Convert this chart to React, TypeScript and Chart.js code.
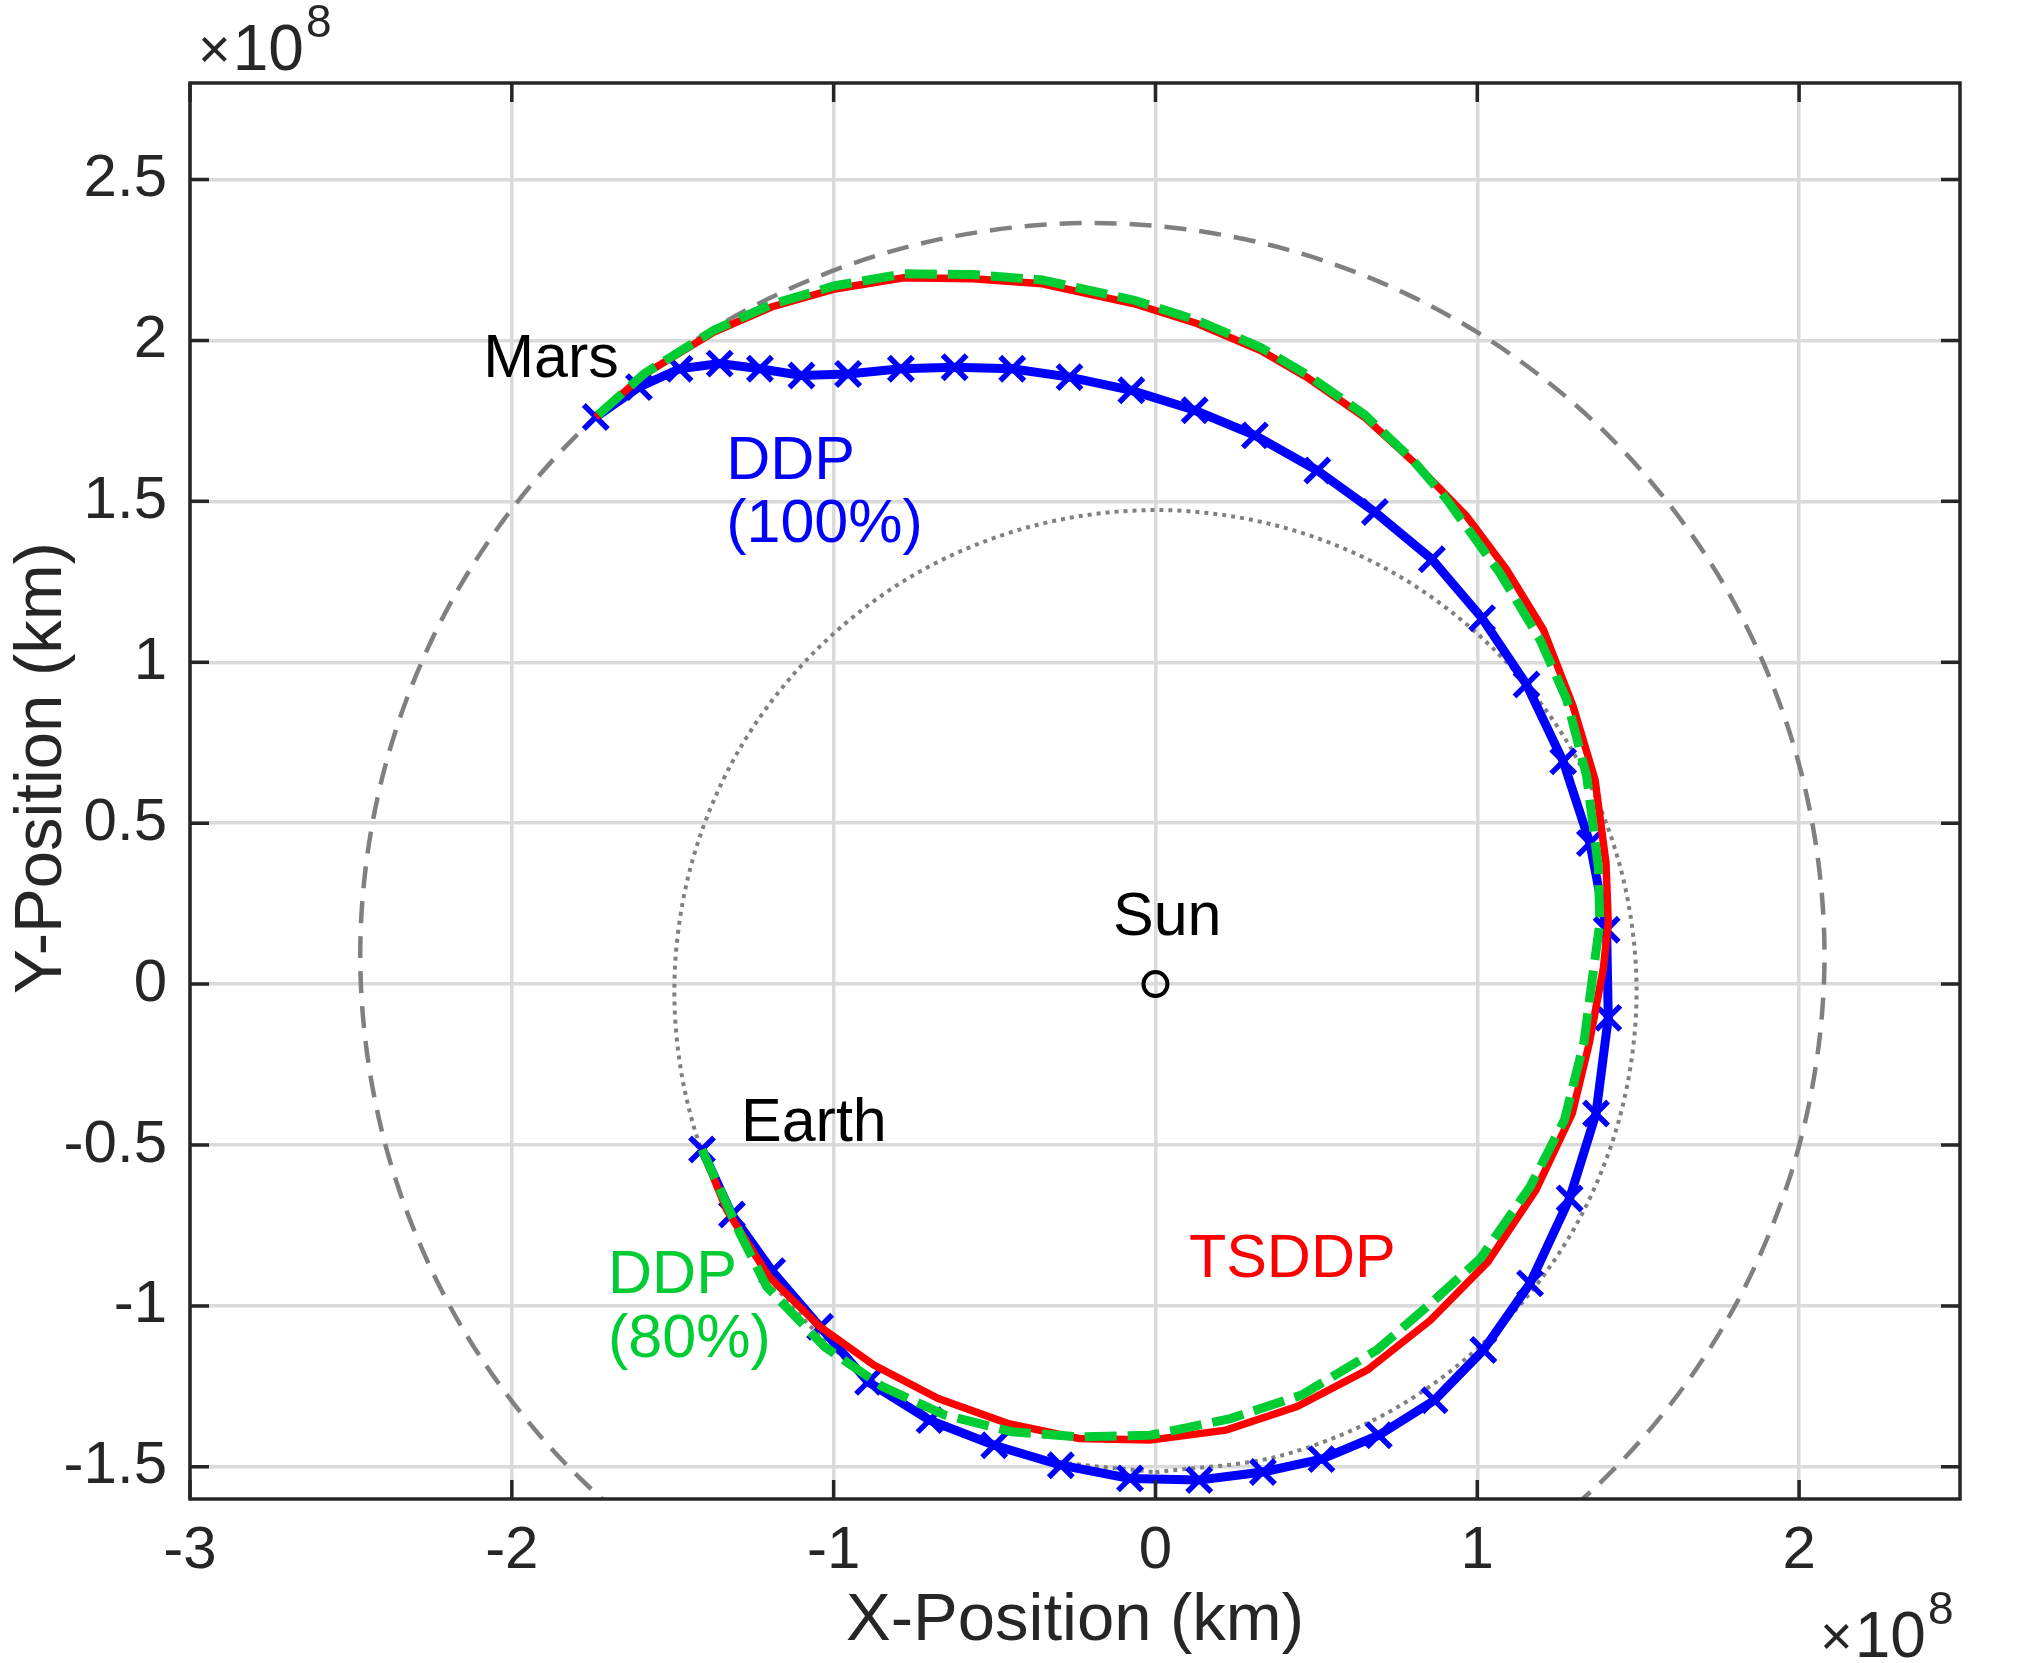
import { useEffect, useRef } from "react";
import { Chart, registerables, type ChartConfiguration, type Plugin } from "chart.js";

Chart.register(...registerables);

// all positions in units of 1e8 km
const xTicks = [-3, -2, -1, 0, 1, 2];
const yTicks = [-1.5, -1, -0.5, 0, 0.5, 1, 1.5, 2, 2.5];

const ddp100X = [
  -1.409, -1.316, -1.191, -1.042, -0.893, -0.702, -0.501, -0.294, -0.079, 0.136, 0.334, 0.516, 0.694, 0.867,
  1.019, 1.164, 1.287, 1.369, 1.407, 1.402, 1.35, 1.267, 1.153, 1.015, 0.859, 0.682, 0.503, 0.309, 0.122,
  -0.075, -0.267, -0.445, -0.624, -0.791, -0.955, -1.1, -1.229, -1.354, -1.479, -1.605, -1.739,
];
const ddp100Y = [
  -0.514, -0.716, -0.892, -1.065, -1.236, -1.355, -1.433, -1.495, -1.536, -1.541, -1.516, -1.476, -1.402, -1.293,
  -1.137, -0.93, -0.666, -0.402, -0.105, 0.169, 0.438, 0.692, 0.931, 1.137, 1.32, 1.467, 1.596, 1.705, 1.783,
  1.845, 1.886, 1.912, 1.917, 1.912, 1.896, 1.891, 1.912, 1.928, 1.912, 1.855, 1.762,
];

const tsddpX = [
  -1.409, -1.332, -1.201, -1.042, -0.875, -0.675, -0.46, -0.238, -0.017, 0.219, 0.44, 0.659, 0.855, 1.033,
  1.182, 1.295, 1.348, 1.392, 1.407, 1.4, 1.366, 1.298, 1.205, 1.091, 0.967, 0.81, 0.649, 0.47, 0.327, 0.131,
  -0.066, -0.352, -0.567, -0.782, -0.996, -1.193, -1.372, -1.587, -1.739,
];
const tsddpY = [
  -0.514, -0.702, -0.909, -1.065, -1.184, -1.288, -1.365, -1.412, -1.417, -1.386, -1.313, -1.199, -1.044, -0.863,
  -0.64, -0.402, -0.184, 0.05, 0.19, 0.376, 0.635, 0.863, 1.102, 1.288, 1.454, 1.615, 1.762, 1.886, 1.969, 2.052,
  2.114, 2.176, 2.192, 2.195, 2.16, 2.104, 2.026, 1.896, 1.762,
];

const ddp80X = [
  -1.409, -1.291, -1.208, -1.028, -0.848, -0.654, -0.446, -0.238, -0.017, 0.233, 0.454, 0.688, 0.843, 1.01,
  1.164, 1.271, 1.331, 1.362, 1.381, 1.376, 1.34, 1.278, 1.195, 1.07, 0.905, 0.8, 0.649, 0.47, 0.327, 0.131,
  -0.066, -0.352, -0.567, -0.782, -0.996, -1.193, -1.372, -1.587, -1.739,
];
const ddp80Y = [
  -0.514, -0.775, -0.94, -1.127, -1.251, -1.339, -1.391, -1.407, -1.402, -1.35, -1.277, -1.137, -1.003, -0.852,
  -0.63, -0.422, -0.184, 0.05, 0.19, 0.366, 0.646, 0.884, 1.07, 1.278, 1.506, 1.628, 1.77, 1.894, 1.978, 2.062,
  2.125, 2.188, 2.205, 2.207, 2.17, 2.112, 2.032, 1.898, 1.762,
];

const earthOrbitX = [
  0, 0.387, 0.748, 1.057, 1.295, 1.444, 1.495, 1.444, 1.295, 1.057, 0.748, 0.387, 0, -0.387, -0.748, -1.057,
  -1.295, -1.444, -1.495, -1.444, -1.295, -1.057, -0.748, -0.387, 0,
];
const earthOrbitY = [
  -1.517, -1.466, -1.317, -1.079, -0.77, -0.409, -0.022, 0.365, 0.726, 1.035, 1.273, 1.422, 1.473, 1.422, 1.273,
  1.035, 0.726, 0.365, -0.022, -0.409, -0.77, -1.079, -1.317, -1.466, -1.517,
];

const marsOrbitX = [
  -0.196, 0.393, 0.942, 1.413, 1.774, 2.001, 2.079, 2.001, 1.774, 1.413, 0.942, 0.393, -0.196, -0.785, -1.334,
  -1.805, -2.166, -2.393, -2.471, -2.393, -2.166, -1.805, -1.334, -0.785, -0.196,
];
const marsOrbitY = [
  -2.185, -2.107, -1.88, -1.519, -1.048, -0.499, 0.09, 0.679, 1.228, 1.699, 2.06, 2.287, 2.365, 2.287, 2.06,
  1.699, 1.228, 0.679, 0.09, -0.499, -1.048, -1.519, -1.88, -2.107, -2.185,
];

const sunX = [0];
const sunY = [0];

const notes = [
  { text: "Mars", x: -2.089, y: 1.885, color: "#000000" },
  { text: "DDP", x: -1.334, y: 1.571, color: "#0000ff" },
  { text: "(100%)", x: -1.334, y: 1.375, color: "#0000ff" },
  { text: "Sun", x: -0.132, y: 0.154, color: "#000000" },
  { text: "Earth", x: -1.288, y: -0.489, color: "#000000" },
  { text: "TSDDP", x: 0.104, y: -0.909, color: "#ff0000" },
  { text: "DDP", x: -1.701, y: -0.959, color: "#00cc33" },
  { text: "(80%)", x: -1.701, y: -1.158, color: "#00cc33" },
];

const FONT = '"Liberation Sans", Arial, Helvetica, sans-serif';
const AXIS = "#262626";
const TICK_LEN = 19;

const pts = (xs: number[], ys: number[]) => xs.map((x, i) => ({ x, y: ys[i] }));

const matlabAxes: Plugin = {
  id: "matlabAxes",
  afterDraw(chart) {
    const { ctx, chartArea: a } = chart;
    const xs = chart.scales.x;
    const ys = chart.scales.y;
    ctx.save();

    // box and inward ticks
    ctx.strokeStyle = AXIS;
    ctx.lineWidth = 3.5;
    ctx.beginPath();
    for (const v of xTicks) {
      const p = xs.getPixelForValue(v);
      ctx.moveTo(p, a.bottom);
      ctx.lineTo(p, a.bottom - TICK_LEN);
      ctx.moveTo(p, a.top);
      ctx.lineTo(p, a.top + TICK_LEN);
    }
    for (const v of yTicks) {
      const p = ys.getPixelForValue(v);
      ctx.moveTo(a.left, p);
      ctx.lineTo(a.left + TICK_LEN, p);
      ctx.moveTo(a.right, p);
      ctx.lineTo(a.right - TICK_LEN, p);
    }
    ctx.stroke();
    ctx.strokeRect(a.left, a.top, a.right - a.left, a.bottom - a.top);

    // text labels on the plot
    ctx.textBaseline = "alphabetic";
    ctx.textAlign = "left";
    ctx.font = `61px ${FONT}`;
    for (const n of notes) {
      ctx.fillStyle = n.color;
      ctx.fillText(n.text, xs.getPixelForValue(n.x), ys.getPixelForValue(n.y));
    }

    // axis titles
    ctx.fillStyle = AXIS;
    ctx.font = `67px ${FONT}`;
    ctx.textAlign = "center";
    ctx.fillText("X-Position (km)", (a.left + a.right) / 2, a.bottom + 141);
    ctx.save();
    ctx.translate(a.left - 129, (a.top + a.bottom) / 2 - 23);
    ctx.rotate(-Math.PI / 2);
    ctx.fillText("Y-Position (km)", 0, 0);
    ctx.restore();

    // exponent labels
    ctx.textAlign = "left";
    const expo = (x: number, y: number) => {
      ctx.font = `56px ${FONT}`;
      ctx.fillText("\u00d7", x, y - 2);
      const wx = ctx.measureText("\u00d7").width;
      ctx.font = `64px ${FONT}`;
      ctx.fillText("10", x + wx + 2, y);
      const w10 = ctx.measureText("10").width;
      ctx.font = `46px ${FONT}`;
      ctx.fillText("8", x + wx + w10 + 4, y - 33);
    };
    expo(a.left + 8, a.top - 13);
    expo(a.right - 140, a.bottom + 158);

    ctx.restore();
  },
};

export default function App() {
  const canvasRef = useRef<HTMLCanvasElement>(null);
  const chartRef = useRef<Chart | null>(null);

  useEffect(() => {
    const canvas = canvasRef.current;
    if (!canvas) return;
    chartRef.current?.destroy();

    const tickFont = { family: FONT, size: 60 };

    const config: ChartConfiguration<"scatter"> = {
      type: "scatter",
      data: {
        datasets: [
          {
            label: "DDP (80%)",
            data: pts(ddp80X, ddp80Y),
            showLine: true,
            borderColor: "#00cc33",
            borderWidth: 9,
            borderDash: [32, 11],
            pointRadius: 0,
            tension: 0,
          },
          {
            label: "TSDDP",
            data: pts(tsddpX, tsddpY),
            showLine: true,
            borderColor: "#ff0000",
            borderWidth: 7.5,
            pointRadius: 0,
            tension: 0,
          },
          {
            label: "DDP (100%)",
            data: pts(ddp100X, ddp100Y),
            showLine: true,
            borderColor: "#0000ff",
            borderWidth: 9,
            pointStyle: "crossRot",
            pointRadius: 17,
            pointBorderWidth: 5.5,
            pointBorderColor: "#0000ff",
            tension: 0,
          },
          {
            label: "Sun",
            data: pts(sunX, sunY),
            showLine: false,
            pointStyle: "circle",
            pointRadius: 12,
            pointBorderWidth: 4,
            pointBorderColor: "#000000",
            pointBackgroundColor: "rgba(0,0,0,0)",
          },
          {
            label: "Earth orbit",
            data: pts(earthOrbitX, earthOrbitY),
            showLine: true,
            borderColor: "#808080",
            borderWidth: 4,
            borderDash: [4, 5],
            pointRadius: 0,
            tension: 0.33,
            capBezierPoints: false,
            clip: 0,
          },
          {
            label: "Mars orbit",
            data: pts(marsOrbitX, marsOrbitY),
            showLine: true,
            borderColor: "#808080",
            borderWidth: 4.5,
            borderDash: [22, 13],
            pointRadius: 0,
            tension: 0.33,
            capBezierPoints: false,
            clip: 0,
          },
        ],
      },
      options: {
        responsive: false,
        animation: false,
        devicePixelRatio: 1,
        events: [],
        layout: { padding: { left: 0, top: 83, right: 60, bottom: 0 } },
        plugins: {
          legend: { display: false },
          tooltip: { enabled: false },
        },
        scales: {
          x: {
            type: "linear",
            min: -3,
            max: 2.5,
            afterBuildTicks: (s) => {
              s.ticks = xTicks.map((value) => ({ value }));
            },
            afterFit: (s) => {
              s.height = 164;
            },
            ticks: {
              color: AXIS,
              font: tickFont,
              padding: 16,
              autoSkip: false,
              maxRotation: 0,
              callback: (v) => String(v),
            },
            grid: { color: "#dadada", lineWidth: 3.5, drawTicks: false },
            border: { display: false },
          },
          y: {
            type: "linear",
            min: -1.6,
            max: 2.8,
            afterBuildTicks: (s) => {
              s.ticks = yTicks.map((value) => ({ value }));
            },
            afterFit: (s) => {
              s.width = 190;
            },
            ticks: {
              color: AXIS,
              font: tickFont,
              padding: 23,
              autoSkip: false,
              callback: (v) => String(v),
            },
            grid: { color: "#dadada", lineWidth: 3.5, drawTicks: false },
            border: { display: false },
          },
        },
      },
      plugins: [matlabAxes],
    };

    chartRef.current = new Chart(canvas, config);
    return () => chartRef.current?.destroy();
  }, []);

  return (
    <div style={{ position: "absolute", left: 0, top: 0, width: 2020, height: 1663, background: "#ffffff" }}>
      <canvas ref={canvasRef} width={2020} height={1663} />
    </div>
  );
}
